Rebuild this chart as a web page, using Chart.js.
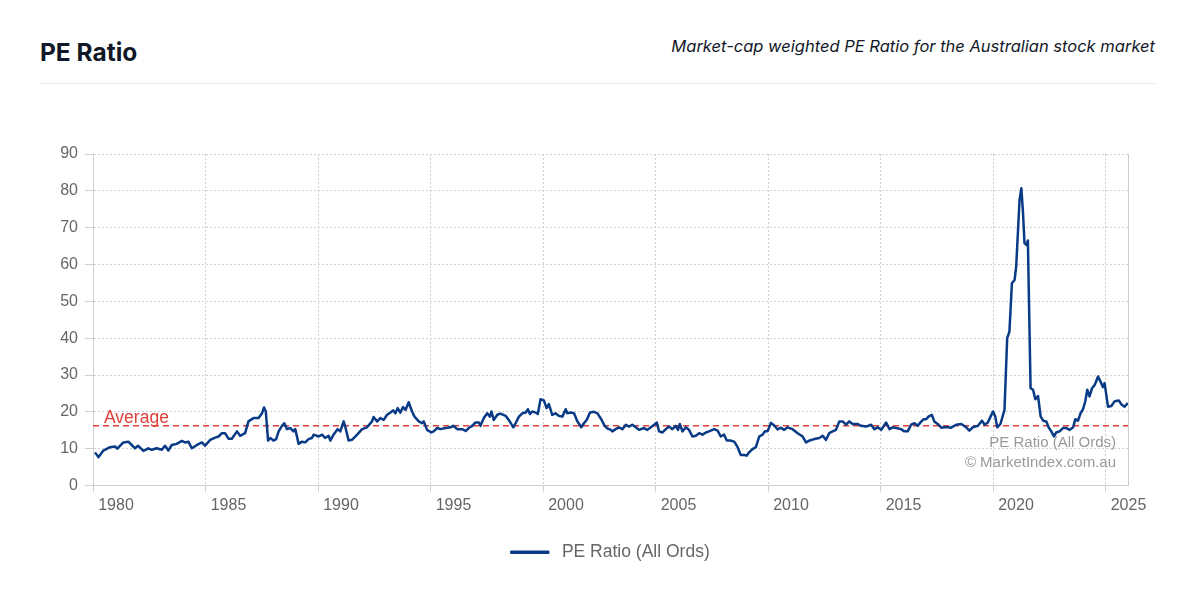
<!DOCTYPE html>
<html>
<head>
<meta charset="utf-8">
<title>PE Ratio</title>
<script src="https://cdn.jsdelivr.net/npm/chart.js@4.4.1/dist/chart.umd.min.js"></script>
<style>
    body { margin: 0; background: #fff; width: 1190px; height: 615px; overflow: hidden; position: relative; font-family: Inter, "Liberation Sans", sans-serif; }
    .title { position: absolute; left: 40px; top: 36px; font-size: 24.5px; font-weight: 700; color: #111827; line-height: 32px; }
    .subtitle { position: absolute; right: 35px; top: 34px; font-size: 16.5px; font-style: italic; color: #111827; line-height: 24px; }
    .rule { position: absolute; left: 40px; top: 83px; width: 1115px; height: 1px; background: #e2e8f0; }
    .chart-box { position: absolute; left: 0; top: 100px; width: 1190px; height: 500px; }
</style>
</head>
<body>
<div class="title">PE Ratio</div>
<div class="subtitle">Market-cap weighted PE Ratio for the Australian stock market</div>
<div class="rule"></div>
<div class="chart-box"><canvas id="peChart"></canvas></div>

<script>
// Data (decimal years / PE values)
const dates = [
    1980.09, 1980.24, 1980.46, 1980.76, 1980.98, 1981.08, 1981.35, 1981.57, 1981.72, 1981.87,
    1982.00, 1982.24, 1982.46, 1982.61, 1982.83, 1983.06, 1983.20, 1983.35, 1983.50, 1983.72,
    1983.95, 1984.09, 1984.24, 1984.39, 1984.62, 1984.84, 1984.98, 1985.21, 1985.43, 1985.58,
    1985.73, 1985.87, 1986.02, 1986.17, 1986.40, 1986.54, 1986.76, 1986.91, 1987.13, 1987.36,
    1987.51, 1987.60, 1987.68, 1987.78, 1987.88, 1988.02, 1988.14, 1988.25, 1988.40, 1988.50,
    1988.62, 1988.77, 1988.91, 1988.99, 1989.14, 1989.29, 1989.43, 1989.58, 1989.73, 1989.80,
    1990.03, 1990.18, 1990.32, 1990.47, 1990.55, 1990.69, 1990.87, 1990.99, 1991.14, 1991.21,
    1991.36, 1991.51, 1991.74, 1991.96, 1992.18, 1992.40, 1992.47, 1992.63, 1992.77, 1992.92,
    1993.07, 1993.22, 1993.34, 1993.44, 1993.54, 1993.66, 1993.78, 1993.89, 1994.03, 1994.18,
    1994.29, 1994.48, 1994.63, 1994.70, 1994.85, 1995.03, 1995.14, 1995.30, 1995.44, 1995.67,
    1995.89, 1996.01, 1996.19, 1996.41, 1996.56, 1996.70, 1996.85, 1997.00, 1997.15, 1997.22,
    1997.37, 1997.52, 1997.64, 1997.71, 1997.81, 1997.97, 1998.11, 1998.34, 1998.48, 1998.68,
    1998.78, 1998.93, 1999.08, 1999.23, 1999.33, 1999.42, 1999.52, 1999.67, 1999.77, 1999.89,
    2000.04, 2000.16, 2000.26, 2000.41, 2000.56, 2000.71, 2000.86, 2001.01, 2001.08, 2001.23,
    2001.38, 2001.53, 2001.70, 2001.82, 2001.94, 2002.09, 2002.27, 2002.42, 2002.59, 2002.74,
    2002.86, 2003.01, 2003.08, 2003.23, 2003.38, 2003.53, 2003.68, 2003.82, 2003.97, 2004.12,
    2004.27, 2004.49, 2004.64, 2004.79, 2004.94, 2005.06, 2005.16, 2005.31, 2005.46, 2005.60,
    2005.75, 2005.90, 2006.00, 2006.08, 2006.20, 2006.35, 2006.49, 2006.64, 2006.79, 2006.94,
    2007.09, 2007.24, 2007.38, 2007.61, 2007.76, 2007.90, 2008.05, 2008.17, 2008.32, 2008.50,
    2008.65, 2008.79, 2008.94, 2009.05, 2009.16, 2009.31, 2009.46, 2009.61, 2009.76, 2009.86,
    2009.98, 2010.13, 2010.28, 2010.43, 2010.57, 2010.72, 2010.87, 2011.09, 2011.32, 2011.54,
    2011.69, 2011.84, 2012.06, 2012.28, 2012.43, 2012.58, 2012.72, 2012.87, 2013.02, 2013.17,
    2013.32, 2013.47, 2013.61, 2013.76, 2013.99, 2014.13, 2014.36, 2014.58, 2014.73, 2014.88,
    2015.03, 2015.25, 2015.40, 2015.54, 2015.69, 2015.91, 2016.06, 2016.21, 2016.36, 2016.51,
    2016.66, 2016.77, 2016.92, 2017.03, 2017.13, 2017.28, 2017.39, 2017.54, 2017.70, 2017.92,
    2018.14, 2018.36, 2018.59, 2018.81, 2018.95, 2019.10, 2019.33, 2019.51, 2019.63, 2019.77,
    2019.89, 2020.00, 2020.10, 2020.19, 2020.33, 2020.51, 2020.63, 2020.73, 2020.84, 2020.96,
    2021.03, 2021.18, 2021.26, 2021.33, 2021.40, 2021.49, 2021.55, 2021.67, 2021.78, 2021.88,
    2022.00, 2022.12, 2022.23, 2022.37, 2022.47, 2022.59, 2022.71, 2022.81, 2022.96, 2023.11,
    2023.26, 2023.41, 2023.56, 2023.66, 2023.78, 2023.89, 2024.00, 2024.10, 2024.19, 2024.29,
    2024.40, 2024.52, 2024.67, 2024.78, 2024.89, 2024.96, 2025.11, 2025.26, 2025.41, 2025.59,
    2025.71, 2025.85, 2025.99
];

const peRatio = [
    9.0, 7.7, 9.5, 10.4, 10.6, 10.0, 11.7, 11.9, 11.0, 10.1,
    10.8, 9.4, 10.1, 9.7, 10.1, 9.7, 10.8, 9.5, 11.0, 11.3,
    12.1, 11.7, 11.9, 10.1, 11.0, 11.7, 10.8, 12.4, 13.0, 13.3,
    14.2, 14.2, 12.7, 12.7, 14.7, 13.5, 14.2, 17.4, 18.3, 18.3,
    19.6, 21.2, 20.1, 12.2, 12.9, 12.2, 12.6, 14.7, 16.2, 16.9,
    15.3, 15.6, 14.7, 15.3, 11.3, 11.9, 11.7, 12.6, 12.9, 13.8,
    13.3, 13.8, 12.9, 13.5, 12.2, 13.8, 15.3, 14.7, 17.4, 16.0,
    12.2, 12.4, 13.8, 15.3, 15.8, 17.4, 18.6, 17.4, 18.3, 17.8,
    19.2, 19.8, 20.4, 19.6, 21.0, 19.8, 21.3, 20.5, 22.6, 20.1,
    18.7, 17.4, 16.9, 17.4, 15.1, 14.4, 14.7, 15.6, 15.3, 15.6,
    15.8, 16.2, 15.3, 15.3, 14.8, 15.6, 16.2, 17.1, 17.1, 16.2,
    18.3, 19.6, 18.7, 20.1, 17.8, 19.2, 19.5, 18.9, 17.8, 15.8,
    16.9, 18.7, 19.6, 19.8, 20.7, 19.4, 20.1, 19.8, 19.4, 23.4,
    23.1, 21.0, 22.1, 19.2, 19.6, 18.9, 18.7, 20.7, 19.6, 19.8,
    19.6, 17.4, 15.8, 16.9, 17.8, 19.8, 20.0, 19.6, 18.0, 16.2,
    15.5, 15.1, 14.7, 15.3, 15.8, 15.3, 16.5, 16.0, 16.5, 15.8,
    15.1, 15.6, 15.1, 15.8, 16.5, 17.1, 14.7, 14.4, 15.3, 16.0,
    15.3, 16.2, 15.1, 16.7, 14.7, 15.8, 15.1, 13.3, 13.5, 14.2,
    13.8, 14.4, 14.7, 15.3, 14.9, 13.3, 13.8, 12.2, 12.2, 11.9,
    10.4, 8.3, 8.3, 8.1, 9.0, 9.9, 10.4, 13.3, 13.8, 14.7,
    14.7, 17.0, 16.3, 15.2, 15.7, 15.1, 15.8, 15.3, 14.2, 13.3,
    11.7, 12.2, 12.6, 12.9, 13.5, 12.4, 14.2, 14.7, 15.1, 17.4,
    17.4, 16.5, 17.4, 16.7, 16.7, 16.2, 16.0, 16.5, 15.3, 15.8,
    15.1, 17.1, 15.3, 15.8, 15.6, 15.3, 14.7, 14.7, 16.5, 16.9,
    16.2, 17.1, 18.0, 18.0, 18.7, 19.2, 17.4, 16.7, 15.7, 15.9,
    15.7, 16.5, 16.7, 15.8, 14.9, 15.8, 16.2, 17.6, 16.5, 17.1,
    18.7, 20.1, 18.7, 15.8, 16.7, 20.5, 40.0, 41.8, 54.9, 55.8,
    59.4, 77.5, 80.7, 74.4, 65.8, 65.3, 66.5, 26.4, 26.0, 23.4,
    24.3, 18.7, 17.6, 17.4, 15.8, 14.7, 13.3, 14.4, 14.7, 15.6,
    15.6, 15.1, 15.8, 18.0, 17.6, 19.6, 20.7, 22.8, 26.0, 24.2,
    26.4, 27.3, 29.6, 28.2, 26.7, 27.8, 21.4, 21.6, 22.9, 23.1,
    22.0, 21.4, 22.4
];

const averagePE = 16.2;
const yearTicks = [1980, 1985, 1990, 1995, 2000, 2005, 2010, 2015, 2020, 2025];
const seriesLabel = 'PE Ratio (All Ords)';

const lineColor = '#083a86';
const avgColor = '#e0403a';
const gridColor = '#cfcfcf';

Chart.defaults.font.family = '"Liberation Sans", Arial, sans-serif';
Chart.defaults.font.size = 16;
Chart.defaults.color = '#666';

// Average label, right edge and watermark text drawn on the chart area
const overlayPlugin = {
    id: 'overlay',
    beforeDatasetsDraw(chart) {
        const { ctx, chartArea, scales } = chart;
        ctx.save();
        ctx.strokeStyle = gridColor;
        ctx.lineWidth = 1;
        ctx.beginPath();
        ctx.moveTo(chartArea.right + 0.5, chartArea.top);
        ctx.lineTo(chartArea.right + 0.5, chartArea.bottom);
        ctx.stroke();

        ctx.fillStyle = '#999';
        ctx.font = '15px "Liberation Sans", Arial, sans-serif';
        ctx.textAlign = 'right';
        ctx.textBaseline = 'middle';
        ctx.fillText(seriesLabel, chartArea.right - 12, scales.y.getPixelForValue(11.6));
        ctx.fillText('\u00A9 MarketIndex.com.au', chartArea.right - 12, scales.y.getPixelForValue(6.2));

        const avgY = scales.y.getPixelForValue(averagePE);
        ctx.fillStyle = avgColor;
        ctx.font = '17.5px "Liberation Sans", Arial, sans-serif';
        ctx.textAlign = 'left';
        ctx.textBaseline = 'alphabetic';
        ctx.fillText('Average', chartArea.left + 11, avgY - 3);
        ctx.restore();
    }
};

const points = dates.map((d, i) => ({ x: d, y: peRatio[i] }));

new Chart(document.getElementById('peChart'), {
    type: 'line',
    data: {
        datasets: [{
            label: seriesLabel,
            data: points,
            borderColor: lineColor,
            backgroundColor: lineColor,
            borderWidth: 2.5,
            borderJoinStyle: 'round',
            pointRadius: 0,
            tension: 0
        }, {
            label: 'Average',
            data: [{ x: 1980, y: averagePE }, { x: 2026, y: averagePE }],
            borderColor: avgColor,
            borderWidth: 1.5,
            borderDash: [6, 4],
            pointRadius: 0
        }]
    },
    options: {
        responsive: true,
        maintainAspectRatio: false,
        animation: false,
        layout: { padding: { left: 40, right: 62, top: 54, bottom: 29 } },
        scales: {
            x: {
                type: 'linear',
                min: 1980,
                max: 2026,
                afterBuildTicks: scale => { scale.ticks = yearTicks.map(v => ({ value: v })); },
                afterFit: scale => { scale.height = 46; },
                grid: { color: gridColor, tickLength: 6, tickColor: gridColor },
                border: { color: gridColor, dash: [2, 2] },
                ticks: { labelOffset: 23, padding: 4, maxRotation: 0, callback: v => String(v) }
            },
            y: {
                min: 0,
                max: 90,
                afterFit: scale => { scale.width = 53; },
                grid: { color: gridColor, tickLength: 8, tickColor: gridColor },
                border: { color: gridColor, dash: [2, 2] },
                ticks: { stepSize: 10, padding: 7 }
            }
        },
        plugins: {
            legend: {
                position: 'bottom',
                fullSize: false,
                labels: {
                    filter: item => item.datasetIndex === 0,
                    generateLabels: chart => {
                        const items = Chart.defaults.plugins.legend.labels.generateLabels(chart);
                        items.forEach(it => { it.text = ' ' + it.text; });
                        return items;
                    },
                    boxWidth: 37,
                    boxHeight: 1,
                    padding: 12,
                    color: '#666',
                    font: { size: 17.5 }
                }
            },
            tooltip: { enabled: false }
        }
    },
    plugins: [overlayPlugin]
});
</script>
</body>
</html>
